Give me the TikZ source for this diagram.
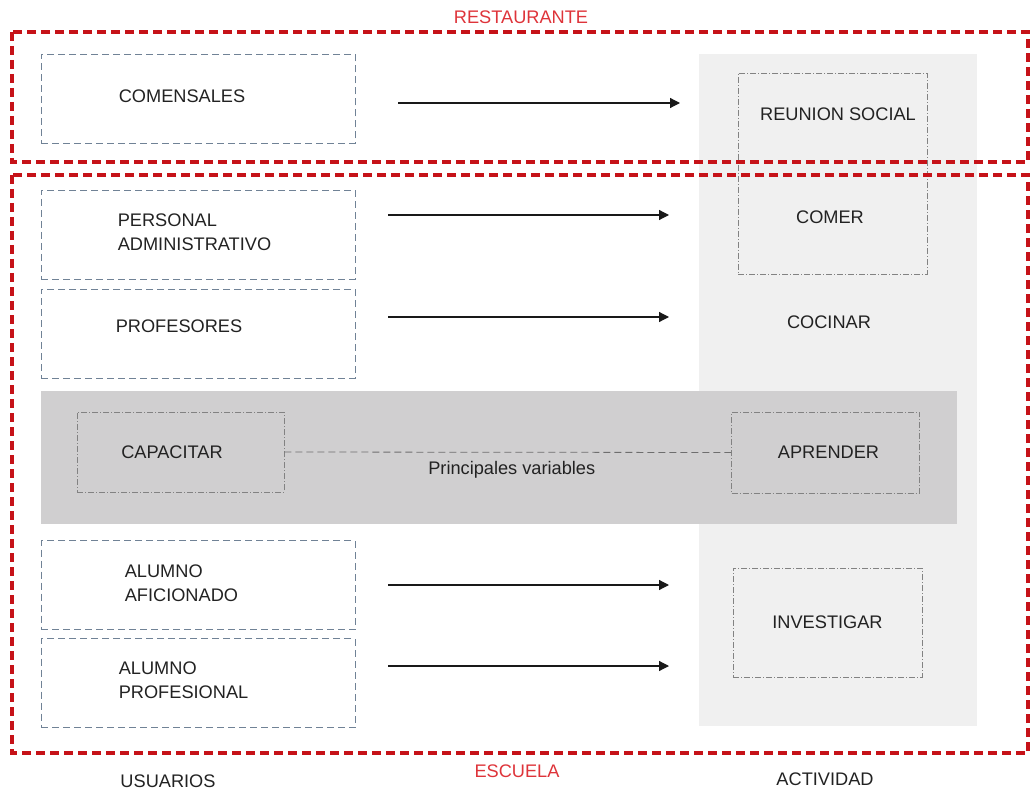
\documentclass[tikz,border=0pt]{standalone}
\usepackage{fontspec}
\setmainfont{Liberation Sans}
\usetikzlibrary{arrows.meta,positioning}
\definecolor{zonered}{RGB}{198,18,24}
\definecolor{zonetxt}{RGB}{222,52,58}
\definecolor{usrline}{RGB}{112,130,150}
\definecolor{actline}{RGB}{130,130,130}
\definecolor{panelgrey}{RGB}{240,240,240}
\definecolor{bandgrey}{RGB}{208,207,208}
\definecolor{inkgrey}{RGB}{34,34,34}
\tikzset{
  usr/.style={draw=usrline,dash pattern=on 7pt off 4pt,line width=.8pt,
              minimum width=314pt,minimum height=89pt,inner sep=0pt},
  usrtxt/.style={inner sep=0pt,align=left,anchor=west},
  act/.style={draw=actline,dash pattern=on 6pt off 2pt on 1pt off 2pt,
              line width=.8pt,inner sep=0pt},
  zone/.style={draw=zonered,line width=3.2pt,dash pattern=on 9pt off 5pt},
  zonelbl/.style={text=zonetxt},
  flow/.style={-{Triangle[length=10pt,width=10pt]},draw=black!90,line width=1.2pt},
  link/.style={draw=actline!85!black,dash pattern=on 7pt off 4pt,line width=.8pt},
}
\begin{document}
\begin{tikzpicture}[x=1pt,y=-1pt,font=\fontsize{18.2}{24}\selectfont,text=inkgrey]
  \useasboundingbox (0,0) rectangle (1030,794);
  % activity column and the shared band
  \node[fill=panelgrey,minimum width=278pt,minimum height=672pt,inner sep=0pt]
    (panel) at (838,390) {};
  \node[fill=bandgrey,minimum width=916pt,minimum height=133pt,inner sep=0pt]
    (band) at (499,457.5) {};
  % user boxes on the left
  \foreach \n/\cy/\txt/\dx/\dy in {com/99/COMENSALES/78/3,
      adm/234.5/{PERSONAL\\ADMINISTRATIVO}/77/2,
      prof/333.5/PROFESORES/75/7,
      afi/585/{ALUMNO\\AFICIONADO}/84/2,
      pro/683/{ALUMNO\\PROFESIONAL}/78/3}{
    \node[usr] (\n) at (198,\cy) {};
    \node[usrtxt,right=\dx pt of \n.west,yshift=\dy pt] (\n-t) {\txt};
  }
  % activities
  \node[act,minimum width=189pt,minimum height=201pt] (soc) at (832.5,173.5) {};
  \node (reu) at (838,114) {REUNION\ SOCIAL};
  \node (comer) at (830,217) {COMER};
  \node (coc) at (829,322) {COCINAR};
  \node[act,minimum width=207pt,minimum height=80pt] (capa) at (180.5,452) {CAPACITAR\hspace*{17pt}};
  \node[act,minimum width=188pt,minimum height=81pt] (apre) at (825.5,452.5) {\hspace*{6pt}APRENDER};
  \node[act,minimum width=189pt,minimum height=109pt] (inv) at (827.5,622.5) {INVESTIGAR};
  \draw[link] (capa.east) -- (apre.west)
    node[midway,below=5pt,xshift=4pt] (var) {Principales variables};
  % arrows from users to activities
  \foreach \k/\y/\xa/\xb in {1/103/398/680,2/215/388/669,3/317/388/669,
                             4/585/388/669,5/666/388/669}{
    \coordinate (t\k) at (\xa,\y);
    \coordinate (h\k) at (\xb,\y);
    \draw[flow] (t\k) -- (h\k);
  }
  % restaurant and school zones
  \draw[zone] (12,32) rectangle (1028,162);
  \draw[zone] (12,175) rectangle (1028,753);
  \node[zonelbl] (rest) at (521,17) {RESTAURANTE};
  \node[zonelbl] (esc) at (517,771) {ESCUELA};
  \node (usu) at (168,781) {USUARIOS};
  \node (acti) at (825,779) {ACTIVIDAD};
\end{tikzpicture}
\end{document}
